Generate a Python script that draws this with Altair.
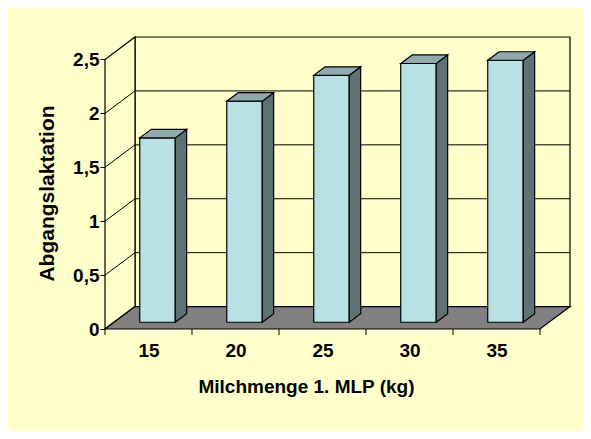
import json
import altair as alt
import pandas as pd

# ---- data ----
categories = ["15", "20", "25", "30", "35"]
values = [1.71, 2.05, 2.29, 2.40, 2.43]
y_ticks = [0, 0.5, 1, 1.5, 2, 2.5]
x_title = "Milchmenge 1. MLP (kg)"
y_title = "Abgangslaktation"

# ---- 3D style constants (in data units) ----
Y_MAX = 2.5
N = len(categories)
DX = 0.345   # depth offset along x (category units)
DY = 0.208   # depth offset along y (value units)
F1, F2 = 0.30, 0.68   # front / back depth fraction of bars
HW = 0.204   # half width of bar front face
WIDTH, HEIGHT = 465, 292

BG = "#FFFFCC"
FRONT = "#B9E0E4"
SIDE = "#5E7273"
TOP = "#8FA9AD"
FLOOR = "#808080"
FONT = "Liberation Sans"
SW = 1.2

xs = alt.Scale(domain=[0, N + DX], nice=False, zero=False)
ys = alt.Scale(domain=[0, Y_MAX + DY], nice=False, zero=False)

xa = alt.Axis(
    values=[i + 0.5 for i in range(N)],
    labelExpr=json.dumps(categories) + "[floor(datum.value)]",
    ticks=False, domain=False, grid=False,
    labelPadding=12, labelFontSize=19, labelFontWeight="bold", labelFont=FONT,
    labelColor="black",
    title=x_title, titleFontSize=19, titleFontWeight="bold", titleFont=FONT,
    titleColor="black", titleX=201, titleY=63, titleBaseline="alphabetic",
)
ya = alt.Axis(
    values=y_ticks, format=".1~f", labelExpr="replace(datum.label, '.', ',')",
    domain=False, grid=False, tickSize=5, tickColor="black", ticks=True,
    labelPadding=1, labelFontSize=19, labelFontWeight="bold", labelFont=FONT,
    labelColor="black",
    title=y_title, titleFontSize=21, titleFontWeight="bold", titleFont=FONT,
    titleColor="black", titleX=-52, titleY=156, titleBaseline="alphabetic",
)


def X(field="x"):
    return alt.X(f"{field}:Q", scale=xs, axis=xa)


def Y(field="y"):
    return alt.Y(f"{field}:Q", scale=ys, axis=ya)


# back wall
back = pd.DataFrame([{"x": DX, "x2": N + DX, "y": DY, "y2": Y_MAX + DY}])
back_l = alt.Chart(back).mark_rect(fill=BG, stroke="black", strokeWidth=SW).encode(
    x=X(), x2="x2:Q", y=Y(), y2="y2:Q",
)

# left wall
lw = pd.DataFrame([
    {"x": 0, "y": 0, "y2": Y_MAX},
    {"x": DX, "y": DY, "y2": Y_MAX + DY},
])
lw_l = alt.Chart(lw).mark_area(orient="vertical", fill=BG, stroke="black", strokeWidth=SW).encode(
    x=X(), y=Y(), y2="y2:Q",
)

# gridlines
grid_t = [t for t in y_ticks if 0 < t < Y_MAX]
bg = pd.DataFrame([{"x": DX, "x2": N + DX, "y": t + DY} for t in grid_t])
bg_l = alt.Chart(bg).mark_rule(color="black", strokeWidth=1).encode(
    x=X(), x2="x2:Q", y=Y(),
)
lg = pd.DataFrame([{"x": 0, "x2": DX, "y": t, "y2": t + DY} for t in grid_t])
lg_l = alt.Chart(lg).mark_rule(color="black", strokeWidth=1).encode(
    x=X(), x2="x2:Q", y=Y(), y2="y2:Q",
)

# floor
fl = pd.DataFrame([
    {"y": 0, "x": 0, "x2": N},
    {"y": DY, "x": DX, "x2": N + DX},
])
fl_l = alt.Chart(fl).mark_area(orient="horizontal", fill=FLOOR, stroke="black", strokeWidth=SW).encode(
    y=Y(), x=X(), x2="x2:Q",
)

# bars
front_rows, side_rows, top_rows = [], [], []
bdx = (F2 - F1) * DX
bdy = (F2 - F1) * DY
for i, v in enumerate(values):
    c = i + 0.5 + F1 * DX
    xl, xr = c - HW, c + HW
    yb, yt = F1 * DY, v + F1 * DY
    front_rows.append({"bar": i, "x": xl, "x2": xr, "y": yb, "y2": yt})
    side_rows.append({"bar": i, "x": xr, "y": yb, "y2": yt})
    side_rows.append({"bar": i, "x": xr + bdx, "y": yb + bdy, "y2": yt + bdy})
    top_rows.append({"bar": i, "y": yt, "x": xl, "x2": xr})
    top_rows.append({"bar": i, "y": yt + bdy, "x": xl + bdx, "x2": xr + bdx})

front_l = alt.Chart(pd.DataFrame(front_rows)).mark_rect(fill=FRONT, stroke="black", strokeWidth=SW).encode(
    x=X(), x2="x2:Q", y=Y(), y2="y2:Q",
)
side_l = alt.Chart(pd.DataFrame(side_rows)).mark_area(orient="vertical", fill=SIDE, stroke="black", strokeWidth=SW).encode(
    x=X(), y=Y(), y2="y2:Q", detail="bar:N",
)
top_l = alt.Chart(pd.DataFrame(top_rows)).mark_area(orient="horizontal", fill=TOP, stroke="black", strokeWidth=SW).encode(
    y=Y(), x=X(), x2="x2:Q", detail="bar:N",
)

# x ticks at category boundaries
tk = pd.DataFrame([{"x": b, "y": 0} for b in range(N + 1)])
tk_l = alt.Chart(tk).mark_rule(color="black", strokeWidth=1).encode(
    x=X(), y=Y(), y2=alt.value(HEIGHT + 6),
)

chart = alt.layer(
    back_l, lw_l, bg_l, lg_l, fl_l, front_l, side_l, top_l, tk_l
).properties(
    width=WIDTH, height=HEIGHT,
    autosize=alt.AutoSizeParams(type="none"),
    padding={"left": 97, "top": 29, "right": 13, "bottom": 102},
    background=BG,
).configure_view(strokeWidth=0)

chart.save("out.html", embed_options={"renderer": "svg", "actions": False})
